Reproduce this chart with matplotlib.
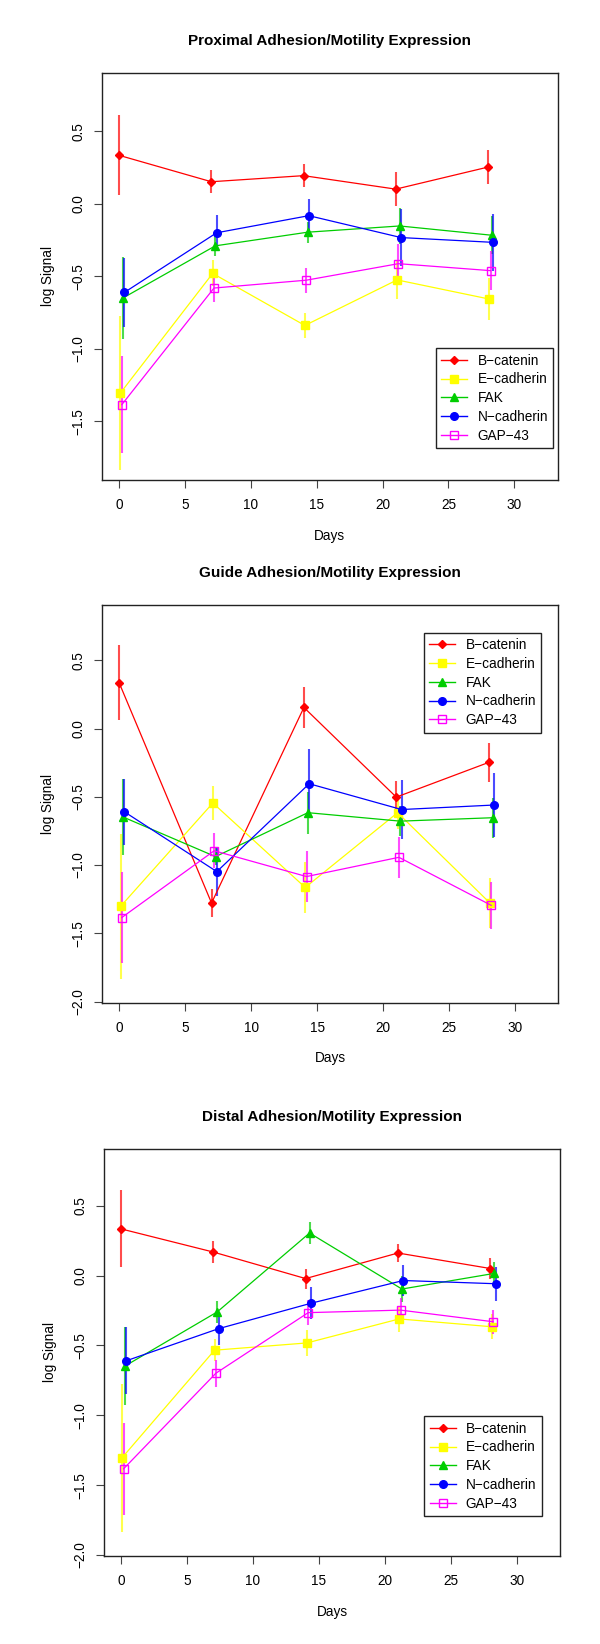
import matplotlib
matplotlib.use("Agg")
import matplotlib.pyplot as plt
from matplotlib.lines import Line2D
from matplotlib.ticker import FuncFormatter

plt.rcParams["font.family"] = ["Liberation Sans", "DejaVu Sans"]

days = [0, 7, 14, 21, 28]
genes = ["B\u2212catenin", "E\u2212cadherin", "FAK", "N\u2212cadherin", "GAP\u221243"]
# small horizontal shift per gene so error bars don't overlap
day_shift = [0.0, 0.1, 0.3, 0.4, 0.2]

# Proximal
prox_mean = [
    [0.335, 0.153, 0.195, 0.102, 0.254],
    [-1.303, -0.479, -0.838, -0.524, -0.656],
    [-0.648, -0.289, -0.195, -0.152, -0.216],
    [-0.610, -0.199, -0.081, -0.232, -0.265],
    [-1.384, -0.580, -0.526, -0.412, -0.460],
]
prox_err = [
    [0.275, 0.078, 0.077, 0.118, 0.117],
    [0.53, 0.09, 0.088, 0.134, 0.145],
    [0.28, 0.072, 0.072, 0.125, 0.13],
    [0.24, 0.125, 0.117, 0.197, 0.195],
    [0.332, 0.095, 0.085, 0.135, 0.136],
]

# Guide
guide_mean = [
    [0.335, -1.278, 0.155, -0.502, -0.248],
    [-1.303, -0.545, -1.164, -0.616, -1.278],
    [-0.648, -0.938, -0.616, -0.678, -0.653],
    [-0.610, -1.048, -0.404, -0.593, -0.560],
    [-1.384, -0.895, -1.084, -0.943, -1.295],
]
guide_err = [
    [0.275, 0.104, 0.153, 0.12, 0.145],
    [0.53, 0.122, 0.19, 0.12, 0.18],
    [0.28, 0.06, 0.155, 0.11, 0.145],
    [0.24, 0.177, 0.253, 0.218, 0.235],
    [0.332, 0.127, 0.185, 0.152, 0.172],
]

# Distal
dist_mean = [
    [0.335, 0.169, -0.021, 0.162, 0.051],
    [-1.303, -0.534, -0.482, -0.310, -0.366],
    [-0.648, -0.260, 0.305, -0.096, 0.016],
    [-0.610, -0.380, -0.198, -0.035, -0.058],
    [-1.384, -0.699, -0.265, -0.247, -0.330],
]
dist_err = [
    [0.275, 0.08, 0.072, 0.064, 0.075],
    [0.53, 0.08, 0.09, 0.095, 0.09],
    [0.28, 0.077, 0.077, 0.09, 0.08],
    [0.24, 0.116, 0.115, 0.11, 0.122],
    [0.332, 0.095, 0.088, 0.085, 0.086],
]

colors = ["#FF0000", "#FFFF00", "#00CD00", "#0000FF", "#FF00FF"]
markers = ["D", "s", "^", "o", "s"]
msizes = [4.2, 5.5, 6, 5.5, 5.2]
filled = [True, True, True, True, False]


def minus_fmt(v, pos):
    return f"{v:.1f}".replace("-", "\u2212")


def plot_panel(ax, title, means, errs, yticks, ylim, leg_xy):
    for i in range(len(genes)):
        x = [d + day_shift[i] for d in days]
        ax.vlines(x, [m - e for m, e in zip(means[i], errs[i])],
                  [m + e for m, e in zip(means[i], errs[i])],
                  colors=colors[i], lw=1.5, alpha=0.7, zorder=2)
        ax.plot(x, means[i], color=colors[i], lw=0.9, marker=markers[i],
                ms=msizes[i], mfc=colors[i] if filled[i] else "none",
                mec=colors[i], mew=1.0, zorder=3)

    ax.set_xlim(-1.28, 33.28)
    ax.set_ylim(*ylim)
    ax.set_xticks([0, 5, 10, 15, 20, 25, 30])
    ax.set_yticks(yticks)
    ax.yaxis.set_major_formatter(FuncFormatter(minus_fmt))
    ax.tick_params(axis="x", length=6, pad=7, labelsize=9.8, color="#444444")
    ax.tick_params(axis="y", length=6, pad=6, labelsize=9.8, color="#444444")
    for lab in ax.get_yticklabels():
        lab.set_rotation(90)
        lab.set_va("center")
    for sp in ax.spines.values():
        sp.set_color("#222222")
        sp.set_linewidth(1.0)

    ax.annotate(title, xy=(0.5, 1), xycoords="axes fraction", xytext=(0, 23),
                textcoords="offset points", ha="center", va="center",
                fontsize=11, fontweight="bold")
    ax.annotate("Days", xy=(0.5, 0), xycoords="axes fraction", xytext=(0, -40),
                textcoords="offset points", ha="center", va="center", fontsize=9.8)
    ax.annotate("log Signal", xy=(0, 0.5), xycoords="axes fraction", xytext=(-39, 0),
                textcoords="offset points", ha="center", va="center", fontsize=9.8,
                rotation=90)

    handles = [Line2D([0], [0], color=colors[i], lw=1.0, marker=markers[i],
                      ms=msizes[i], mfc=colors[i] if filled[i] else "none",
                      mec=colors[i], mew=1.0) for i in range(len(genes))]
    leg = ax.legend(handles, genes, loc="upper left", bbox_to_anchor=leg_xy,
                    borderaxespad=0, fontsize=9.8, handlelength=1.9,
                    handletextpad=0.75, labelspacing=0.35, borderpad=0.4,
                    fancybox=False, framealpha=1, edgecolor="#222222")
    leg.get_frame().set_linewidth(1.0)


fig = plt.figure(figsize=(6, 16.44), dpi=100)
ax1 = fig.add_axes([0.1705, 0.7080, 0.7587, 0.2477])
ax2 = fig.add_axes([0.1705, 0.3901, 0.7600, 0.2421])
ax3 = fig.add_axes([0.1733, 0.0535, 0.7600, 0.2477])

plot_panel(ax1, "Proximal Adhesion/Motility Expression", prox_mean, prox_err,
           [-1.5, -1.0, -0.5, 0.0, 0.5], (-1.904, 0.904), (0.733, 0.324))
plot_panel(ax2, "Guide Adhesion/Motility Expression", guide_mean, guide_err,
           [-2.0, -1.5, -1.0, -0.5, 0.0, 0.5], (-2.008, 0.908), (0.7055, 0.9296))
plot_panel(ax3, "Distal Adhesion/Motility Expression", dist_mean, dist_err,
           [-2.0, -1.5, -1.0, -0.5, 0.0, 0.5], (-2.008, 0.908), (0.7024, 0.3437))

fig.savefig("out.png", dpi=100)
